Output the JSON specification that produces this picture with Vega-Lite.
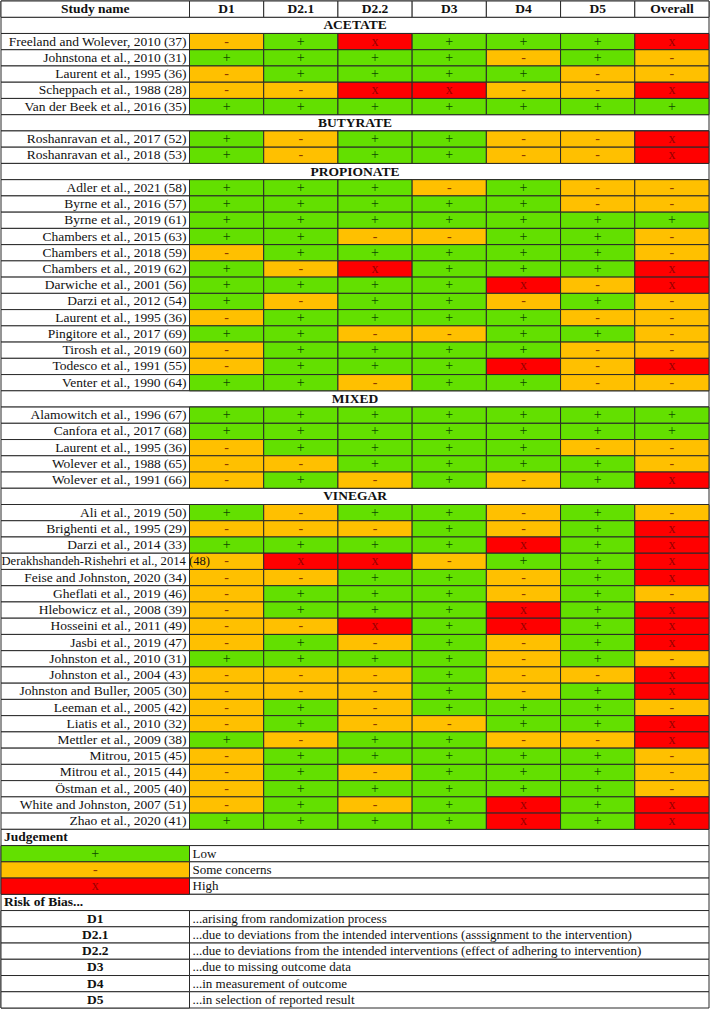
{
  "$schema": "https://vega.github.io/schema/vega-lite/v6.json",
  "width": 708,
  "height": 1007,
  "autosize": {"type": "none"},
  "padding": {"left": 1, "top": 1, "right": 1, "bottom": 8},
  "background": "white",
  "config": {
    "view": {"stroke": null},
    "text": {"font": "Liberation Serif", "fontSize": 13, "baseline": "middle", "color": "#111111"}
  },
  "datasets": {
    "cols": [
      {"r": 0, "c": "D1", "label": "D1"},
      {"r": 0, "c": "D21", "label": "D2.1"},
      {"r": 0, "c": "D22", "label": "D2.2"},
      {"r": 0, "c": "D3", "label": "D3"},
      {"r": 0, "c": "D4", "label": "D4"},
      {"r": 0, "c": "D5", "label": "D5"},
      {"r": 0, "c": "Overall", "label": "Overall"}
    ],
    "table": [
      {"r": 0, "kind": "header", "label": "Study name"},
      {"r": 1, "kind": "section", "label": "ACETATE"},
      {"r": 2, "kind": "study", "label": "Freeland and Wolever, 2010 (37)", "D1": "-", "D21": "+", "D22": "x", "D3": "+", "D4": "+", "D5": "+", "Overall": "x"},
      {"r": 3, "kind": "study", "label": "Johnstona et al., 2010 (31)", "D1": "+", "D21": "+", "D22": "+", "D3": "+", "D4": "-", "D5": "+", "Overall": "-"},
      {"r": 4, "kind": "study", "label": "Laurent et al., 1995 (36)", "D1": "-", "D21": "+", "D22": "+", "D3": "+", "D4": "+", "D5": "-", "Overall": "-"},
      {"r": 5, "kind": "study", "label": "Scheppach et al., 1988 (28)", "D1": "-", "D21": "-", "D22": "x", "D3": "x", "D4": "-", "D5": "-", "Overall": "x"},
      {"r": 6, "kind": "study", "label": "Van der Beek et al., 2016 (35)", "D1": "+", "D21": "+", "D22": "+", "D3": "+", "D4": "+", "D5": "+", "Overall": "+"},
      {"r": 7, "kind": "section", "label": "BUTYRATE"},
      {"r": 8, "kind": "study", "label": "Roshanravan et al., 2017 (52)", "D1": "+", "D21": "-", "D22": "+", "D3": "+", "D4": "-", "D5": "-", "Overall": "x"},
      {"r": 9, "kind": "study", "label": "Roshanravan et al., 2018 (53)", "D1": "+", "D21": "-", "D22": "+", "D3": "+", "D4": "-", "D5": "-", "Overall": "x"},
      {"r": 10, "kind": "section", "label": "PROPIONATE"},
      {"r": 11, "kind": "study", "label": "Adler et al., 2021 (58)", "D1": "+", "D21": "+", "D22": "+", "D3": "-", "D4": "+", "D5": "-", "Overall": "-"},
      {"r": 12, "kind": "study", "label": "Byrne et al., 2016 (57)", "D1": "+", "D21": "+", "D22": "+", "D3": "+", "D4": "+", "D5": "-", "Overall": "-"},
      {"r": 13, "kind": "study", "label": "Byrne et al., 2019 (61)", "D1": "+", "D21": "+", "D22": "+", "D3": "+", "D4": "+", "D5": "+", "Overall": "+"},
      {"r": 14, "kind": "study", "label": "Chambers et al., 2015 (63)", "D1": "+", "D21": "+", "D22": "-", "D3": "-", "D4": "+", "D5": "+", "Overall": "-"},
      {"r": 15, "kind": "study", "label": "Chambers et al., 2018 (59)", "D1": "-", "D21": "+", "D22": "+", "D3": "+", "D4": "+", "D5": "+", "Overall": "-"},
      {"r": 16, "kind": "study", "label": "Chambers et al., 2019 (62)", "D1": "+", "D21": "-", "D22": "x", "D3": "+", "D4": "+", "D5": "+", "Overall": "x"},
      {"r": 17, "kind": "study", "label": "Darwiche et al., 2001 (56)", "D1": "+", "D21": "+", "D22": "+", "D3": "+", "D4": "x", "D5": "-", "Overall": "x"},
      {"r": 18, "kind": "study", "label": "Darzi et al., 2012 (54)", "D1": "+", "D21": "-", "D22": "+", "D3": "+", "D4": "-", "D5": "+", "Overall": "-"},
      {"r": 19, "kind": "study", "label": "Laurent et al., 1995 (36)", "D1": "-", "D21": "+", "D22": "+", "D3": "+", "D4": "+", "D5": "-", "Overall": "-"},
      {"r": 20, "kind": "study", "label": "Pingitore et al., 2017 (69)", "D1": "+", "D21": "+", "D22": "-", "D3": "-", "D4": "+", "D5": "+", "Overall": "-"},
      {"r": 21, "kind": "study", "label": "Tirosh et al., 2019 (60)", "D1": "-", "D21": "+", "D22": "+", "D3": "+", "D4": "+", "D5": "-", "Overall": "-"},
      {"r": 22, "kind": "study", "label": "Todesco et al., 1991 (55)", "D1": "-", "D21": "+", "D22": "+", "D3": "+", "D4": "x", "D5": "-", "Overall": "x"},
      {"r": 23, "kind": "study", "label": "Venter et al., 1990 (64)", "D1": "+", "D21": "+", "D22": "-", "D3": "+", "D4": "+", "D5": "-", "Overall": "-"},
      {"r": 24, "kind": "section", "label": "MIXED"},
      {"r": 25, "kind": "study", "label": "Alamowitch et al., 1996 (67)", "D1": "+", "D21": "+", "D22": "+", "D3": "+", "D4": "+", "D5": "+", "Overall": "+"},
      {"r": 26, "kind": "study", "label": "Canfora et al., 2017 (68)", "D1": "+", "D21": "+", "D22": "+", "D3": "+", "D4": "+", "D5": "+", "Overall": "+"},
      {"r": 27, "kind": "study", "label": "Laurent et al., 1995 (36)", "D1": "-", "D21": "+", "D22": "+", "D3": "+", "D4": "+", "D5": "-", "Overall": "-"},
      {"r": 28, "kind": "study", "label": "Wolever et al., 1988 (65)", "D1": "-", "D21": "-", "D22": "+", "D3": "+", "D4": "+", "D5": "+", "Overall": "-"},
      {"r": 29, "kind": "study", "label": "Wolever et al., 1991 (66)", "D1": "-", "D21": "+", "D22": "-", "D3": "+", "D4": "-", "D5": "+", "Overall": "x"},
      {"r": 30, "kind": "section", "label": "VINEGAR"},
      {"r": 31, "kind": "study", "label": "Ali et al., 2019 (50)", "D1": "+", "D21": "-", "D22": "+", "D3": "+", "D4": "-", "D5": "+", "Overall": "-"},
      {"r": 32, "kind": "study", "label": "Brighenti et al., 1995 (29)", "D1": "-", "D21": "-", "D22": "-", "D3": "+", "D4": "-", "D5": "+", "Overall": "x"},
      {"r": 33, "kind": "study", "label": "Darzi et al., 2014 (33)", "D1": "+", "D21": "+", "D22": "+", "D3": "+", "D4": "x", "D5": "+", "Overall": "x"},
      {"r": 34, "kind": "study", "label": "Derakhshandeh-Rishehri et al., 2014 (48)", "D1": "-", "D21": "x", "D22": "x", "D3": "-", "D4": "+", "D5": "+", "Overall": "x"},
      {"r": 35, "kind": "study", "label": "Feise and Johnston, 2020 (34)", "D1": "-", "D21": "-", "D22": "+", "D3": "+", "D4": "-", "D5": "+", "Overall": "x"},
      {"r": 36, "kind": "study", "label": "Gheflati et al., 2019 (46)", "D1": "-", "D21": "+", "D22": "+", "D3": "+", "D4": "-", "D5": "+", "Overall": "-"},
      {"r": 37, "kind": "study", "label": "Hlebowicz et al., 2008 (39)", "D1": "-", "D21": "+", "D22": "+", "D3": "+", "D4": "x", "D5": "+", "Overall": "x"},
      {"r": 38, "kind": "study", "label": "Hosseini et al., 2011 (49)", "D1": "-", "D21": "-", "D22": "x", "D3": "+", "D4": "x", "D5": "+", "Overall": "x"},
      {"r": 39, "kind": "study", "label": "Jasbi et al., 2019 (47)", "D1": "-", "D21": "+", "D22": "-", "D3": "+", "D4": "-", "D5": "+", "Overall": "x"},
      {"r": 40, "kind": "study", "label": "Johnston et al., 2010 (31)", "D1": "+", "D21": "+", "D22": "+", "D3": "+", "D4": "-", "D5": "+", "Overall": "-"},
      {"r": 41, "kind": "study", "label": "Johnston et al., 2004 (43)", "D1": "-", "D21": "-", "D22": "-", "D3": "+", "D4": "-", "D5": "-", "Overall": "x"},
      {"r": 42, "kind": "study", "label": "Johnston and Buller, 2005 (30)", "D1": "-", "D21": "-", "D22": "-", "D3": "+", "D4": "-", "D5": "+", "Overall": "x"},
      {"r": 43, "kind": "study", "label": "Leeman et al., 2005 (42)", "D1": "-", "D21": "+", "D22": "-", "D3": "+", "D4": "+", "D5": "+", "Overall": "-"},
      {"r": 44, "kind": "study", "label": "Liatis et al., 2010 (32)", "D1": "-", "D21": "+", "D22": "-", "D3": "-", "D4": "+", "D5": "+", "Overall": "x"},
      {"r": 45, "kind": "study", "label": "Mettler et al., 2009 (38)", "D1": "+", "D21": "-", "D22": "+", "D3": "+", "D4": "-", "D5": "-", "Overall": "x"},
      {"r": 46, "kind": "study", "label": "Mitrou, 2015 (45)", "D1": "-", "D21": "+", "D22": "+", "D3": "+", "D4": "+", "D5": "+", "Overall": "-"},
      {"r": 47, "kind": "study", "label": "Mitrou et al., 2015 (44)", "D1": "-", "D21": "+", "D22": "-", "D3": "+", "D4": "+", "D5": "+", "Overall": "-"},
      {"r": 48, "kind": "study", "label": "Östman et al., 2005 (40)", "D1": "-", "D21": "+", "D22": "+", "D3": "+", "D4": "+", "D5": "+", "Overall": "-"},
      {"r": 49, "kind": "study", "label": "White and Johnston, 2007 (51)", "D1": "-", "D21": "+", "D22": "-", "D3": "+", "D4": "x", "D5": "+", "Overall": "x"},
      {"r": 50, "kind": "study", "label": "Zhao et al., 2020 (41)", "D1": "+", "D21": "+", "D22": "+", "D3": "+", "D4": "x", "D5": "+", "Overall": "x"},
      {"r": 51, "kind": "title", "label": "Judgement"},
      {"r": 52, "kind": "legend", "sym": "+", "label": "Low"},
      {"r": 53, "kind": "legend", "sym": "-", "label": "Some concerns"},
      {"r": 54, "kind": "legend", "sym": "x", "label": "High"},
      {"r": 55, "kind": "title", "label": "Risk of Bias..."},
      {"r": 56, "kind": "rob", "code": "D1", "label": "...arising from randomization process"},
      {"r": 57, "kind": "rob", "code": "D2.1", "label": "...due to deviations from the intended interventions (asssignment to the intervention)"},
      {"r": 58, "kind": "rob", "code": "D2.2", "label": "...due to deviations from the intended interventions (effect of adhering to intervention)"},
      {"r": 59, "kind": "rob", "code": "D3", "label": "...due to missing outcome data"},
      {"r": 60, "kind": "rob", "code": "D4", "label": "...in measurement of outcome"},
      {"r": 61, "kind": "rob", "code": "D5", "label": "...in selection of reported result"}
    ]
  },
  "encoding": {
    "y": {"field": "r", "type": "ordinal", "axis": null, "scale": {"paddingInner": 0, "paddingOuter": 0}}
  },
  "layer": [
    {
      "data": {"name": "table"},
      "mark": {"type": "rect", "fill": "white", "stroke": "#2a2a2a", "strokeWidth": 1}
    },
    {
      "data": {"name": "cols"},
      "mark": {"type": "rect", "fill": "white", "stroke": "#2a2a2a", "strokeWidth": 1},
      "encoding": {
        "x": {"field": "c", "type": "nominal", "axis": null, "scale": {"domain": ["D1", "D21", "D22", "D3", "D4", "D5", "Overall"], "paddingInner": 0, "paddingOuter": 0, "range": [188.5, 708]}}
      }
    },
    {
      "data": {"name": "table"},
      "transform": [{"filter": "datum.kind === 'header' || datum.kind === 'rob'"}],
      "mark": {"type": "rect", "fill": "white", "stroke": "#2a2a2a", "strokeWidth": 1},
      "encoding": {
        "x": {"datum": "D1", "type": "nominal", "bandPosition": -2.54, "axis": null},
        "x2": {"datum": "D1", "bandPosition": 0}
      }
    },
    {
      "data": {"name": "table"},
      "transform": [{"filter": "datum.kind === 'legend'"}],
      "mark": {"type": "rect", "stroke": "#2a2a2a", "strokeWidth": 1},
      "encoding": {
        "x": {"datum": "D1", "type": "nominal", "bandPosition": -2.54, "axis": null},
        "x2": {"datum": "D1", "bandPosition": 0},
        "fill": {"field": "sym", "type": "nominal", "legend": null, "scale": {"domain": ["+", "-", "x"], "range": ["#63E000", "#FFC000", "#FF0000"]}}
      }
    },
    {
      "data": {"name": "table"},
      "transform": [
        {"filter": "datum.kind === 'study'"},
        {"fold": ["D1", "D21", "D22", "D3", "D4", "D5", "Overall"], "as": ["c", "j"]}
      ],
      "mark": {"type": "rect", "stroke": "#2a2a2a", "strokeWidth": 1},
      "encoding": {
        "x": {"field": "c", "type": "nominal", "axis": null},
        "fill": {"field": "j", "type": "nominal", "legend": null}
      }
    },
    {
      "data": {"name": "table"},
      "transform": [
        {"filter": "datum.kind === 'study'"},
        {"fold": ["D1", "D21", "D22", "D3", "D4", "D5", "Overall"], "as": ["c", "j"]}
      ],
      "mark": {"type": "text", "fontSize": 14},
      "encoding": {
        "x": {"field": "c", "type": "nominal", "axis": null},
        "text": {"field": "j"},
        "color": {"field": "j", "type": "nominal", "legend": null, "scale": {"domain": ["+", "-", "x"], "range": ["#0E4A00", "#8C3A00", "#990000"]}}
      }
    },
    {
      "data": {"name": "cols"},
      "mark": {"type": "text", "fontWeight": "bold", "fontSize": 13.5},
      "encoding": {
        "x": {"field": "c", "type": "nominal", "axis": null},
        "text": {"field": "label"}
      }
    },
    {
      "data": {"name": "table"},
      "transform": [{"filter": "datum.kind === 'header'"}],
      "mark": {"type": "text", "fontWeight": "bold", "fontSize": 13.5},
      "encoding": {
        "x": {"datum": "D1", "type": "nominal", "bandPosition": -1.27, "axis": null},
        "text": {"field": "label"}
      }
    },
    {
      "data": {"name": "table"},
      "transform": [{"filter": "datum.kind === 'section'"}],
      "mark": {"type": "text", "fontWeight": "bold", "fontSize": 13.5},
      "encoding": {
        "text": {"field": "label"}
      }
    },
    {
      "data": {"name": "table"},
      "transform": [{"filter": "datum.kind === 'study'"}],
      "mark": {
        "type": "text",
        "fontSize": {"expr": "length(datum.label) > 36 ? 12.6 : 13.5"},
        "align": {"expr": "length(datum.label) > 36 ? 'left' : 'right'"},
        "dx": {"expr": "length(datum.label) > 36 ? -188 : -3"}
      },
      "encoding": {
        "x": {"datum": "D1", "type": "nominal", "bandPosition": 0, "axis": null},
        "text": {"field": "label"}
      }
    },
    {
      "data": {"name": "table"},
      "transform": [{"filter": "datum.kind === 'title'"}],
      "mark": {"type": "text", "align": "left", "dx": 3, "fontWeight": "bold", "fontSize": 13.5},
      "encoding": {
        "x": {"datum": "D1", "type": "nominal", "bandPosition": -2.54, "axis": null},
        "text": {"field": "label"}
      }
    },
    {
      "data": {"name": "table"},
      "transform": [{"filter": "datum.kind === 'legend'"}],
      "mark": {"type": "text", "fontSize": 14},
      "encoding": {
        "x": {"datum": "D1", "type": "nominal", "bandPosition": -1.27, "axis": null},
        "text": {"field": "sym"},
        "color": {"field": "sym", "type": "nominal", "legend": null}
      }
    },
    {
      "data": {"name": "table"},
      "transform": [{"filter": "datum.kind === 'legend' || datum.kind === 'rob'"}],
      "mark": {"type": "text", "align": "left", "dx": 3},
      "encoding": {
        "x": {"datum": "D1", "type": "nominal", "bandPosition": 0, "axis": null},
        "text": {"field": "label"}
      }
    },
    {
      "data": {"name": "table"},
      "transform": [{"filter": "datum.kind === 'rob'"}],
      "mark": {"type": "text", "fontWeight": "bold", "fontSize": 13.5},
      "encoding": {
        "x": {"datum": "D1", "type": "nominal", "bandPosition": -1.27, "axis": null},
        "text": {"field": "code"}
      }
    }
  ]
}
